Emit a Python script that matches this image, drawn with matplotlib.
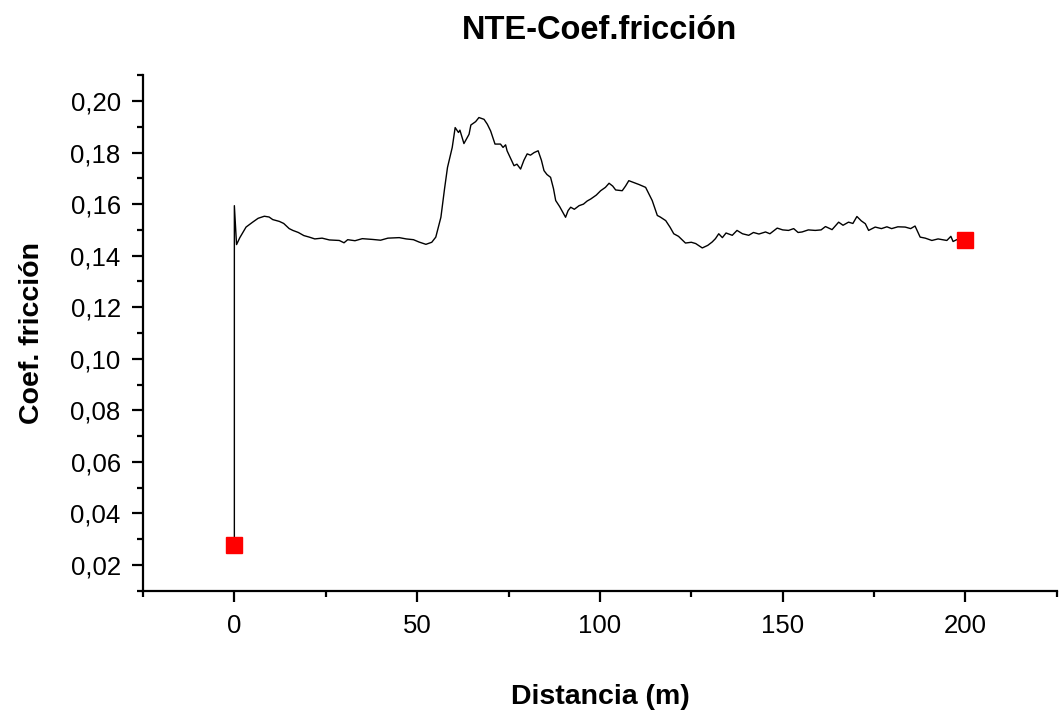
import matplotlib
matplotlib.use("Agg")
import matplotlib.pyplot as plt
from matplotlib.ticker import MultipleLocator, FuncFormatter

plt.rcParams['font.family'] = ['Liberation Sans', 'DejaVu Sans']

# Distancia (m) y coeficiente de fricción
distancia = [0.0, 0.0, 0.6, 1.5, 3.2, 5.0, 6.5, 8.2, 9.5, 10.5, 12.3, 13.5, 15.0, 16.0,
             17.5, 19.0, 20.5, 22.0, 24.0, 26.0, 28.7, 30.0, 31.0, 33.0, 35.0, 37.8,
             40.0, 42.0, 45.1, 47.0, 49.0, 50.5, 52.4, 54.0, 55.1, 56.5, 57.5, 58.3,
             59.6, 60.4, 61.3, 61.7, 62.8, 64.2, 64.7, 66.0, 66.9, 68.3, 69.2, 70.1,
             71.3, 72.8, 73.5, 74.2, 74.6, 75.5, 76.5, 77.3, 78.3, 79.2, 80.1, 81.0,
             82.0, 83.1, 84.0, 84.7, 85.5, 86.5, 87.3, 87.9, 89.0, 90.6, 91.3, 92.0,
             93.0, 94.3, 95.5, 96.5, 97.5, 99.0, 100.2, 101.5, 102.5, 103.5, 104.3,
             106.1, 107.0, 107.9, 109.0, 110.7, 112.5, 114.3, 115.7, 116.5, 118.0,
             119.2, 120.2, 121.5, 123.4, 125.0, 126.2, 128.0, 129.5, 130.7, 131.6,
             132.5, 133.5, 134.5, 136.2, 137.5, 139.0, 140.7, 142.0, 143.5, 145.3,
             146.5, 148.5, 150.0, 151.6, 153.0, 154.2, 155.3, 157.0, 158.9, 160.5,
             161.7, 163.5, 165.3, 166.5, 168.0, 169.2, 170.3, 171.5, 172.6, 173.5,
             175.3, 177.0, 178.5, 179.8, 181.5, 183.5, 185.0, 186.2, 187.6, 189.0,
             190.8, 192.5, 194.9, 196.0, 196.6, 197.6, 199.0, 200.0]
coef = [0.0277, 0.1594, 0.1443, 0.1470, 0.1511, 0.1530, 0.1545, 0.1553, 0.1550, 0.1540,
        0.1533, 0.1525, 0.1505, 0.1498, 0.1490, 0.1478, 0.1472, 0.1465, 0.1468, 0.1461,
        0.1459, 0.1450, 0.1462, 0.1458, 0.1466, 0.1463, 0.1460, 0.1468, 0.1470, 0.1465,
        0.1462, 0.1453, 0.1444, 0.1452, 0.1472, 0.1549, 0.1660, 0.1742, 0.1820, 0.1897,
        0.1878, 0.1887, 0.1835, 0.1871, 0.1907, 0.1920, 0.1936, 0.1929, 0.1910, 0.1884,
        0.1833, 0.1833, 0.1820, 0.1830, 0.1807, 0.1780, 0.1749, 0.1755, 0.1736, 0.1770,
        0.1795, 0.1790, 0.1800, 0.1807, 0.1770, 0.1730, 0.1715, 0.1704, 0.1660, 0.1614,
        0.1590, 0.1549, 0.1575, 0.1588, 0.1580, 0.1594, 0.1600, 0.1612, 0.1620, 0.1635,
        0.1652, 0.1665, 0.1681, 0.1670, 0.1655, 0.1652, 0.1670, 0.1691, 0.1685, 0.1676,
        0.1665, 0.1614, 0.1556, 0.1550, 0.1536, 0.1510, 0.1485, 0.1475, 0.1449, 0.1452,
        0.1447, 0.1430, 0.1440, 0.1453, 0.1466, 0.1485, 0.1470, 0.1488, 0.1479, 0.1498,
        0.1485, 0.1479, 0.1490, 0.1484, 0.1492, 0.1485, 0.1507, 0.1500, 0.1498, 0.1505,
        0.1490, 0.1492, 0.1500, 0.1498, 0.1500, 0.1513, 0.1501, 0.1530, 0.1518, 0.1530,
        0.1525, 0.1552, 0.1535, 0.1524, 0.1498, 0.1511, 0.1505, 0.1512, 0.1505, 0.1512,
        0.1511, 0.1505, 0.1515, 0.1472, 0.1468, 0.1459, 0.1465, 0.1459, 0.1475, 0.1455,
        0.1462, 0.1464, 0.1460]

fig = plt.figure(figsize=(10.59, 7.10), dpi=100)
ax = fig.add_axes([0.135, 0.168, 0.863, 0.726])

ax.plot(distancia, coef, color='black', linewidth=1.0,
        marker='s', markersize=12, markevery=[0, len(distancia) - 1],
        markerfacecolor='#ff0000', markeredgecolor='#ff0000')

ax.set_xlim(-25, 225)
ax.set_ylim(0.01, 0.21)
ax.xaxis.set_major_locator(MultipleLocator(50))
ax.xaxis.set_minor_locator(MultipleLocator(25))
ax.yaxis.set_major_locator(MultipleLocator(0.02))
ax.yaxis.set_minor_locator(MultipleLocator(0.01))
ax.yaxis.set_major_formatter(FuncFormatter(lambda v, p: ("%.2f" % v).replace('.', ',')))

for side in ['top', 'right']:
    ax.spines[side].set_visible(False)
for side in ['left', 'bottom']:
    ax.spines[side].set_linewidth(1.6)

ax.tick_params(which='major', direction='out', length=8, width=1.6, labelsize=18.5)
ax.tick_params(which='minor', direction='out', length=4.5, width=1.6)
ax.tick_params(axis='x', which='major', pad=9)
ax.tick_params(axis='y', which='major', pad=8)

ax.set_title('NTE-Coef.fricción', fontsize=23.5, fontweight='bold', pad=26)
ax.set_xlabel('Distancia (m)', fontsize=20.5, fontweight='bold', labelpad=33)
ax.set_ylabel('Coef. fricción', fontsize=20.5, fontweight='bold', labelpad=18)

plt.savefig('out.png', dpi=100)
